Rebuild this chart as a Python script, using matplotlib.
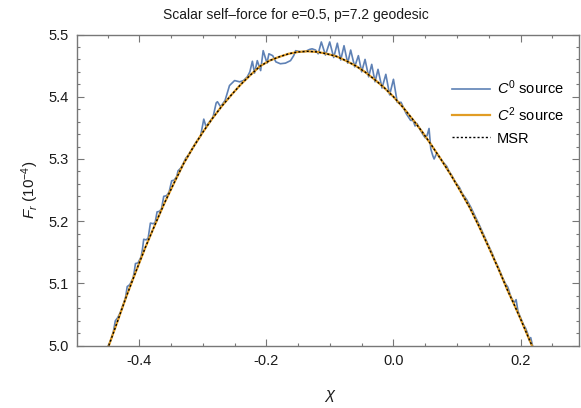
import matplotlib
matplotlib.use("Agg")
import matplotlib.pyplot as plt
from matplotlib.ticker import MultipleLocator, FormatStrFormatter

plt.rcParams['font.family'] = ['Liberation Sans', 'DejaVu Sans']
plt.rcParams['mathtext.fontset'] = 'custom'
plt.rcParams['mathtext.rm'] = 'Liberation Sans'
plt.rcParams['mathtext.it'] = 'Liberation Sans:italic'
plt.rcParams['axes.unicode_minus'] = True

# smooth curve (C2 source and MSR lie on top of each other)
chi_smooth = [-0.46, -0.448, -0.435, -0.42, -0.405, -0.39, -0.375, -0.36, -0.345, -0.33,
              -0.315, -0.30, -0.285, -0.27, -0.255, -0.24, -0.225, -0.21, -0.195, -0.18,
              -0.165, -0.15, -0.135, -0.12, -0.105, -0.09, -0.075, -0.06, -0.045, -0.03,
              -0.015, 0.0, 0.015, 0.03, 0.045, 0.06, 0.075, 0.09, 0.105, 0.12, 0.135,
              0.15, 0.165, 0.18, 0.19, 0.20, 0.21, 0.218, 0.23]
fr_smooth = [4.962, 5.000, 5.037, 5.080, 5.120, 5.159, 5.195, 5.230, 5.262, 5.293,
             5.319, 5.343, 5.365, 5.385, 5.403, 5.420, 5.435, 5.449, 5.458, 5.464,
             5.469, 5.472, 5.473, 5.472, 5.469, 5.465, 5.458, 5.450, 5.440, 5.428,
             5.415, 5.400, 5.383, 5.364, 5.344, 5.322, 5.299, 5.275, 5.249, 5.222,
             5.191, 5.158, 5.124, 5.088, 5.066, 5.043, 5.019, 5.000, 4.970]

chi_c2 = chi_smooth
fr_c2 = fr_smooth
chi_msr = chi_smooth
fr_msr = fr_smooth

# C0 source, with its oscillations
chi_c0 = [-0.46, -0.446, -0.441, -0.4377, -0.434, -0.430, -0.425, -0.4215, -0.419, -0.415,
          -0.410, -0.408, -0.406, -0.402, -0.397, -0.395, -0.393, -0.389, -0.386, -0.3825,
          -0.378, -0.375, -0.372, -0.368, -0.365, -0.3615, -0.357, -0.353, -0.349, -0.345,
          -0.341, -0.339, -0.335, -0.331, -0.327, -0.323, -0.318, -0.31, -0.3035, -0.2985,
          -0.295, -0.290, -0.284, -0.279, -0.277, -0.272, -0.265, -0.258, -0.250, -0.242,
          -0.236, -0.230, -0.226, -0.222, -0.2186, -0.2143, -0.209, -0.205, -0.199, -0.196,
          -0.190, -0.185, -0.178, -0.170, -0.162, -0.157, -0.154, -0.146, -0.138, -0.132,
          -0.128, -0.1225, -0.1185, -0.1135, -0.107, -0.1003, -0.094, -0.0883, -0.083, -0.0778,
          -0.072, -0.0673, -0.061, -0.0552, -0.050, -0.0447, -0.039, -0.0342, -0.029, -0.0243,
          -0.018, -0.012, -0.006, 0.0, 0.006, 0.012, 0.020, 0.027, 0.031, 0.034,
          0.037, 0.041, 0.046, 0.050, 0.053, 0.056, 0.0588, 0.062, 0.064, 0.068,
          0.072, 0.078, 0.084, 0.087, 0.092, 0.098, 0.104, 0.108, 0.115, 0.122,
          0.130, 0.136, 0.143, 0.150, 0.156, 0.160, 0.164, 0.167, 0.171, 0.176,
          0.180, 0.185, 0.190, 0.193, 0.196, 0.200, 0.205, 0.208, 0.211, 0.214,
          0.216, 0.220, 0.23]
fr_c0 = [4.975, 5.006, 5.021, 5.040, 5.045, 5.053, 5.067, 5.078, 5.095, 5.098,
         5.108, 5.118, 5.132, 5.133, 5.143, 5.155, 5.171, 5.170, 5.173, 5.197,
         5.196, 5.198, 5.215, 5.216, 5.220, 5.240, 5.241, 5.247, 5.265, 5.266,
         5.272, 5.281, 5.285, 5.292, 5.301, 5.306, 5.314, 5.328, 5.337, 5.364,
         5.352, 5.359, 5.367, 5.390, 5.392, 5.384, 5.394, 5.418, 5.426, 5.424,
         5.426, 5.432, 5.440, 5.457, 5.438, 5.458, 5.442, 5.474, 5.454, 5.469,
         5.466, 5.456, 5.453, 5.454, 5.458, 5.466, 5.474, 5.472, 5.473, 5.476,
         5.477, 5.475, 5.469, 5.488, 5.467, 5.488, 5.463, 5.486, 5.459, 5.482,
         5.454, 5.475, 5.448, 5.466, 5.440, 5.460, 5.432, 5.452, 5.424, 5.444,
         5.414, 5.436, 5.403, 5.428, 5.391, 5.391, 5.373, 5.362, 5.362, 5.353,
         5.357, 5.349, 5.340, 5.334, 5.338, 5.349, 5.316, 5.305, 5.300, 5.309,
         5.304, 5.295, 5.288, 5.281, 5.273, 5.262, 5.254, 5.245, 5.235, 5.222,
         5.205, 5.192, 5.176, 5.160, 5.147, 5.136, 5.128, 5.121, 5.111, 5.100,
         5.094, 5.078, 5.069, 5.074, 5.055, 5.045, 5.033, 5.028, 5.020, 5.008,
         5.013, 4.995, 4.970]

title = "Scalar self\u2013force for e=0.5, p=7.2 geodesic"

fig = plt.figure(figsize=(5.81, 4.08), dpi=100)
ax = fig.add_axes([77/581, 1 - 345.7/408, (579 - 77)/581, (345.7 - 34.5)/408])

ax.plot(chi_c0, fr_c0, color='#5E81B5', lw=1.2, label='$C^0$ source')
ax.plot(chi_c2, fr_c2, color='#E19C24', lw=1.6, label='$C^2$ source')
ax.plot(chi_msr, fr_msr, color='black', lw=1.0, ls=(0, (1.5, 1.5)), label='MSR')

ax.set_xlim(-0.498, 0.292)
ax.set_ylim(5.0, 5.5)

ax.xaxis.set_major_locator(MultipleLocator(0.2))
ax.xaxis.set_minor_locator(MultipleLocator(0.05))
ax.yaxis.set_major_locator(MultipleLocator(0.1))
ax.yaxis.set_minor_locator(MultipleLocator(0.02))
ax.yaxis.set_major_formatter(FormatStrFormatter('%.1f'))
ax.xaxis.set_major_formatter(FormatStrFormatter('%.1f'))

ax.tick_params(which='both', direction='in', top=True, right=True, color='#777777',
               labelsize=10.5, labelcolor='#1a1a1a', width=0.8)
ax.tick_params(which='major', length=5, pad=6)
ax.tick_params(which='minor', length=2.5)
for s in ax.spines.values():
    s.set_color('#777777')
    s.set_linewidth(1.0)

fig.text(296/581, 1 - 15/408, title, ha='center', va='center', fontsize=10, color='#1a1a1a')
fig.text(30/581, 1 - 190/408, '$F_r$ (10$^{-4}$)', rotation=90, ha='center', va='center',
         fontsize=11, color='#1a1a1a')
fig.text(330/581, 1 - 396/408, '$\\chi$', ha='center', va='center', fontsize=12, color='#1a1a1a')

ax.legend(loc='upper left', bbox_to_anchor=(369/502, 1 - 38/311), frameon=False, fontsize=10.5,
          handlelength=2.6, handletextpad=0.5, labelspacing=0.55, borderaxespad=0)

fig.savefig('out.png', dpi=100)
